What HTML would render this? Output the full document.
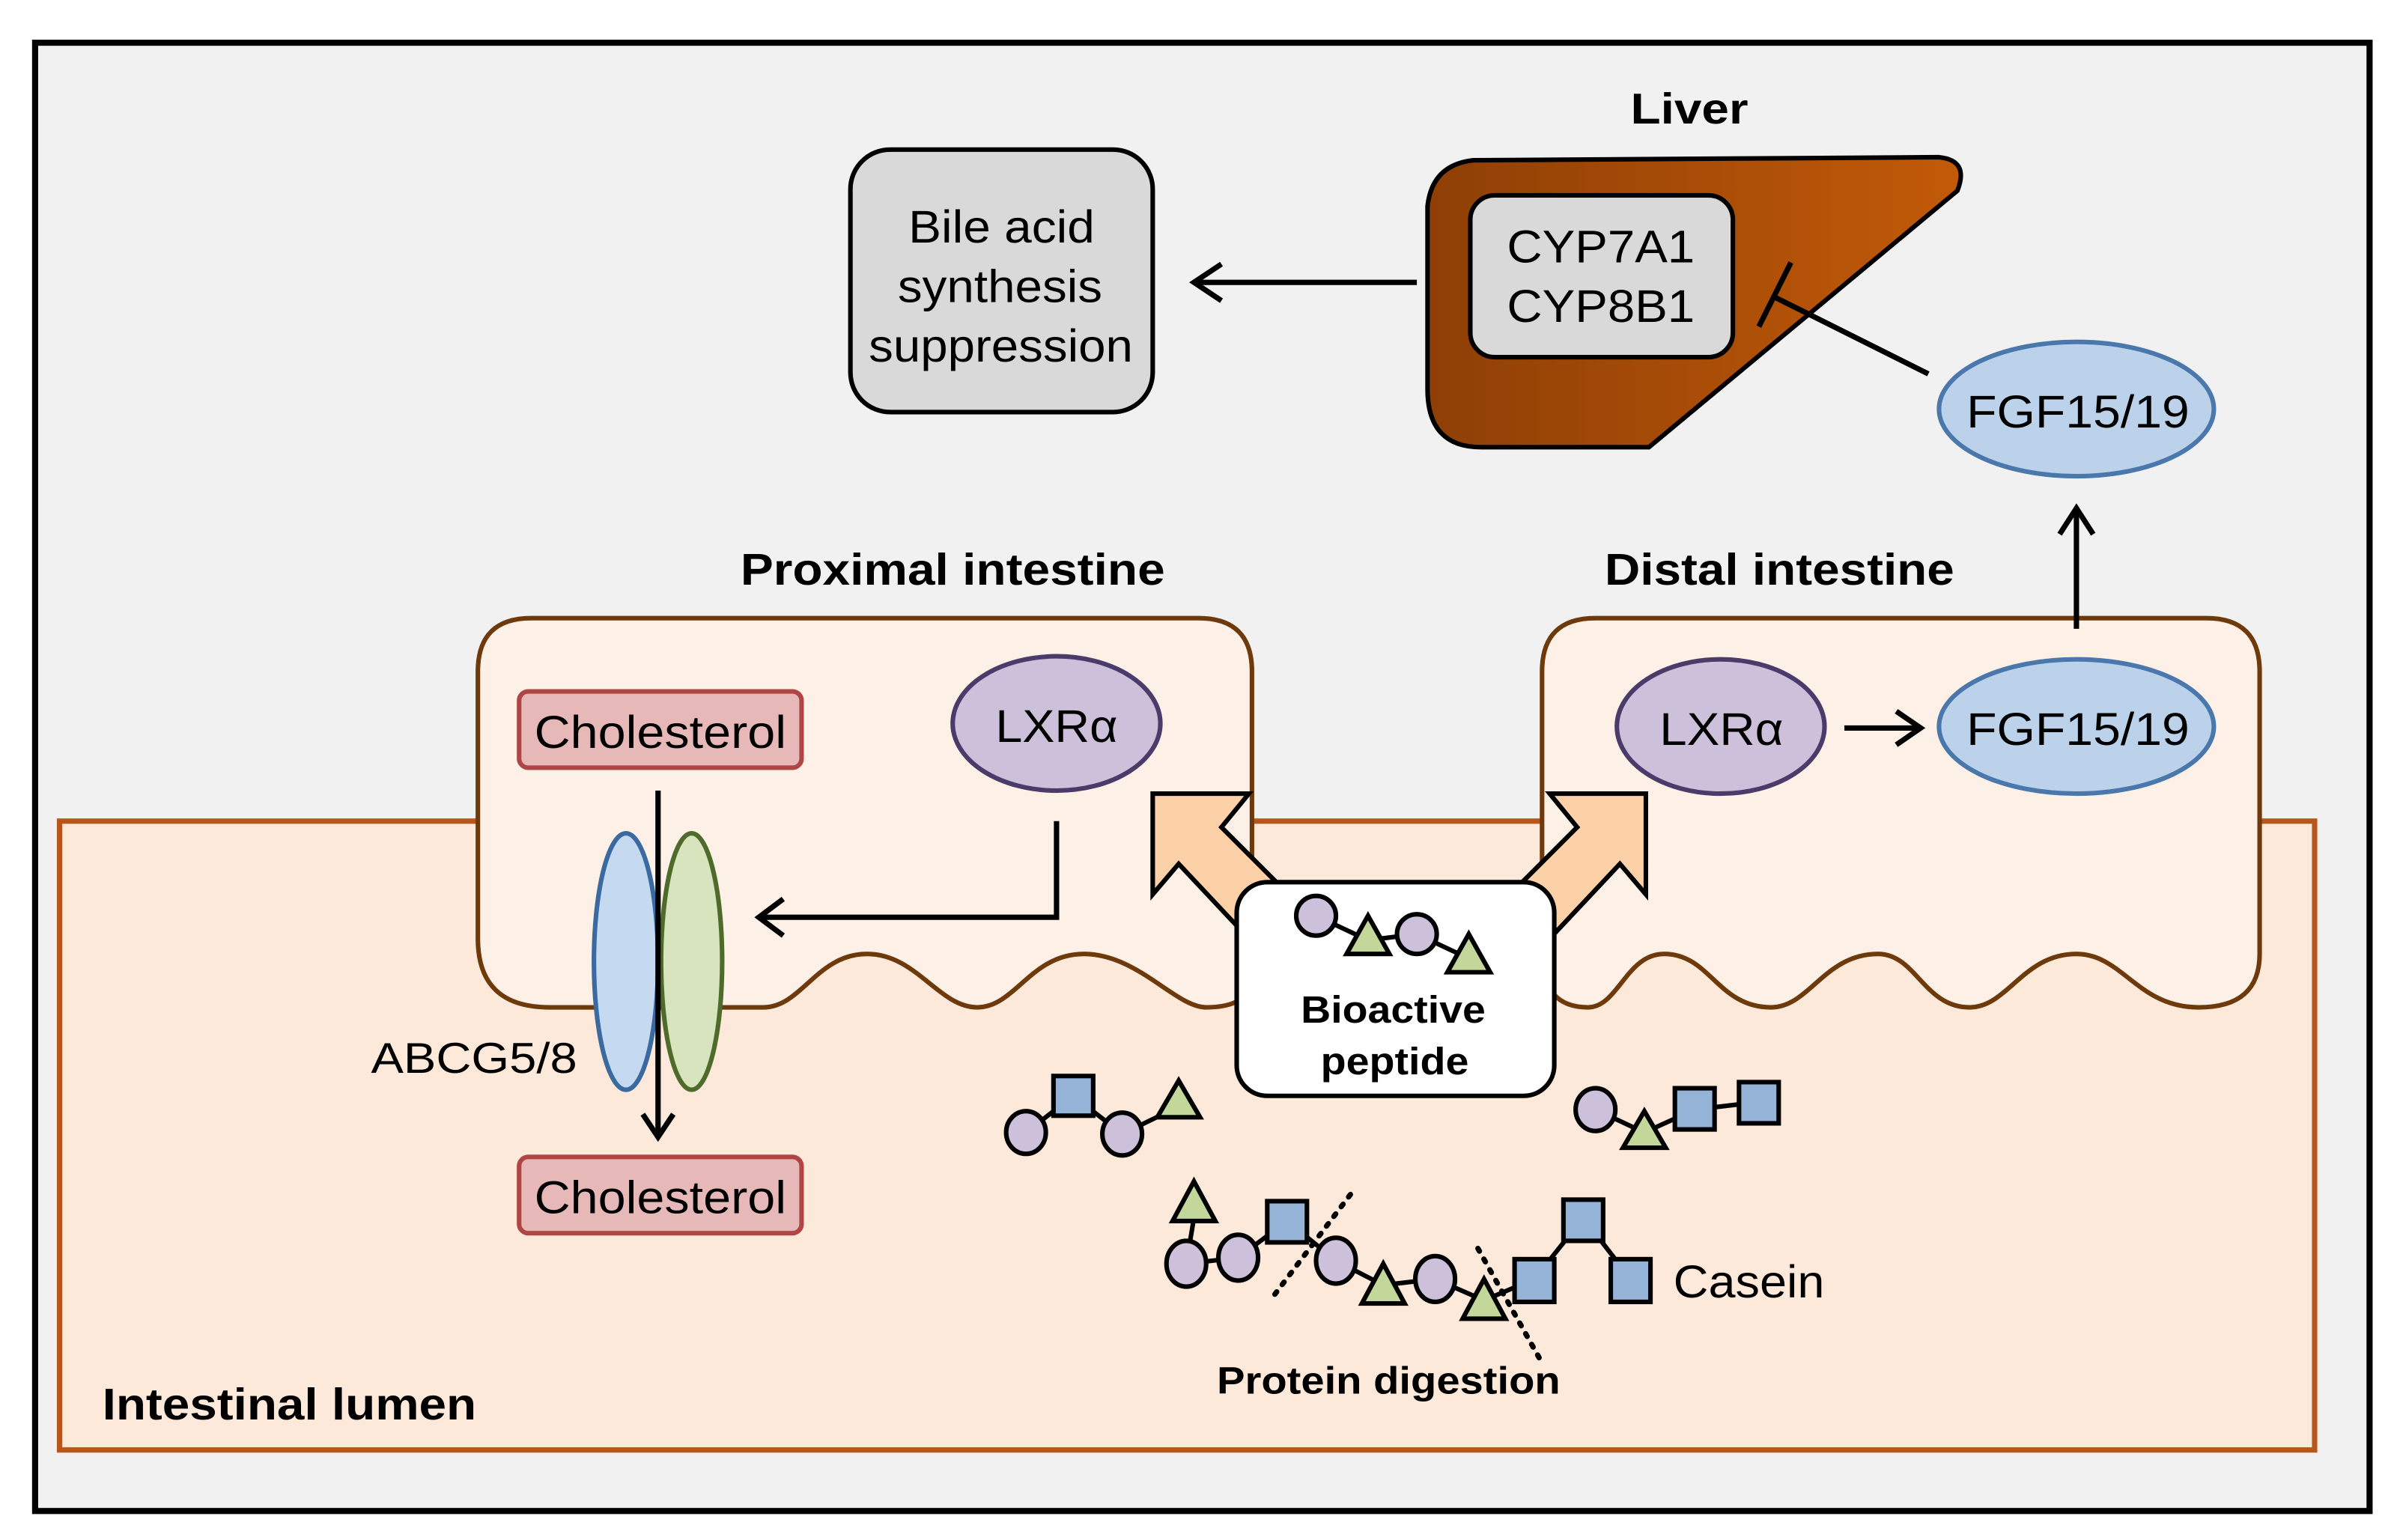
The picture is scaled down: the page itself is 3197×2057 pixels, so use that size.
<!DOCTYPE html>
<html><head><meta charset="utf-8"><style>
html,body{margin:0;padding:0;background:#fff;}
svg{display:block;}
text{font-family:"Liberation Sans",Arial,sans-serif;}
</style></head><body>
<svg width="3197" height="2057" viewBox="0 0 1568 1009" preserveAspectRatio="none" xmlns="http://www.w3.org/2000/svg">
<defs>
<linearGradient id="lg" x1="0" y1="0" x2="1" y2="0">
<stop offset="0" stop-color="#8e3f06"/><stop offset="1" stop-color="#c25a08"/>
</linearGradient>
</defs>
<rect x="0" y="0" width="1568" height="1009" fill="#fff"/>
<rect x="23" y="28" width="1529" height="962" fill="#f1f1f1" stroke="#000" stroke-width="4"/>
<rect x="39" y="538" width="1477" height="412" fill="#fde9da" stroke="#b8561a" stroke-width="3.5"/>

<!-- proximal cell -->
<path d="M313,537 L313,440 Q313,405 348,405 L785,405 Q820,405 820,440 L820,645 Q815,660 790,660 C770,660 745,625 710,625 C675,625 665,660 640,660 C615,660 600,625 568,625 C535,625 525,660 500,660 L360,660 Q313,660 313,615 Z" fill="#fdf0e6" stroke="#6e3a0c" stroke-width="3"/>
<!-- distal cell -->
<path d="M1010,537 L1010,440 Q1010,405 1045,405 L1445,405 Q1480,405 1480,440 L1480,625 Q1480,660 1440,660 C1400,660 1390,625 1360,625 C1325,625 1315,660 1290,660 C1260,660 1255,625 1230,625 C1195,625 1185,660 1160,660 C1125,660 1120,625 1090,625 C1065,625 1060,660 1040,660 Q1010,660 1010,625 Z" fill="#fdf0e6" stroke="#6e3a0c" stroke-width="3"/>

<!-- liver -->
<path d="M965,105 L1270,103 Q1290,105 1282,125 L1080,293 L970,293 Q935,293 935,255 L935,135 Q938,108 965,105 Z" fill="url(#lg)" stroke="#000" stroke-width="3"/>
<rect x="963" y="128" width="172" height="106" rx="16" fill="#d9d9d9" stroke="#000" stroke-width="3"/>
<text x="987" y="172" font-size="30" textLength="123" lengthAdjust="spacingAndGlyphs">CYP7A1</text>
<text x="987" y="211" font-size="30" textLength="123" lengthAdjust="spacingAndGlyphs">CYP8B1</text>
<text x="1068" y="81" font-size="28" font-weight="bold" textLength="77" lengthAdjust="spacingAndGlyphs">Liver</text>

<rect x="557" y="98" width="198" height="172" rx="26" fill="#d9d9d9" stroke="#000" stroke-width="3"/>
<text x="595" y="159" font-size="30" textLength="122" lengthAdjust="spacingAndGlyphs">Bile acid</text>
<text x="588" y="198" font-size="30" textLength="134" lengthAdjust="spacingAndGlyphs">synthesis</text>
<text x="569" y="237" font-size="30" textLength="173" lengthAdjust="spacingAndGlyphs">suppression</text>

<line x1="928" y1="185" x2="785" y2="185" stroke="#000" stroke-width="3.5"/>
<polyline points="800,173 782,185 800,197" fill="none" stroke="#000" stroke-width="3.5"/>
<line x1="1263" y1="245" x2="1163" y2="195" stroke="#000" stroke-width="3.5"/>
<line x1="1173" y1="172" x2="1152" y2="214" stroke="#000" stroke-width="3.5"/>

<ellipse cx="1360" cy="268" rx="90" ry="44" fill="#bcd2ea" stroke="#4a78ad" stroke-width="3"/>
<text x="1288" y="280" font-size="30" textLength="146" lengthAdjust="spacingAndGlyphs">FGF15/19</text>
<line x1="1360" y1="412" x2="1360" y2="334" stroke="#000" stroke-width="3.5"/>
<polyline points="1349,350 1360,333 1371,350" fill="none" stroke="#000" stroke-width="3.5"/>

<text x="485" y="383" font-size="29" font-weight="bold" textLength="278" lengthAdjust="spacingAndGlyphs">Proximal intestine</text>
<text x="1051" y="383" font-size="29" font-weight="bold" textLength="229" lengthAdjust="spacingAndGlyphs">Distal intestine</text>

<ellipse cx="1127" cy="476" rx="68" ry="44" fill="#ccc0da" stroke="#4b3b6b" stroke-width="3"/>
<text x="1087" y="488" font-size="30" textLength="81" lengthAdjust="spacingAndGlyphs">LXRα</text>
<line x1="1208" y1="477" x2="1255" y2="477" stroke="#000" stroke-width="3.5"/>
<polyline points="1242,466 1258,477 1242,488" fill="none" stroke="#000" stroke-width="3.5"/>
<ellipse cx="1360" cy="476" rx="90" ry="44" fill="#bcd2ea" stroke="#4a78ad" stroke-width="3"/>
<text x="1288" y="488" font-size="30" textLength="146" lengthAdjust="spacingAndGlyphs">FGF15/19</text>

<ellipse cx="692" cy="474" rx="68" ry="44" fill="#ccc0da" stroke="#4b3b6b" stroke-width="3"/>
<text x="652" y="486" font-size="30" textLength="80" lengthAdjust="spacingAndGlyphs">LXRα</text>
<rect x="340" y="453" width="185" height="50" rx="6" fill="#e6b8b8" stroke="#b04545" stroke-width="3"/>
<text x="350" y="490" font-size="30" textLength="165" lengthAdjust="spacingAndGlyphs">Cholesterol</text>
<rect x="340" y="758" width="185" height="50" rx="6" fill="#e6b8b8" stroke="#b04545" stroke-width="3"/>
<text x="350" y="795" font-size="30" textLength="165" lengthAdjust="spacingAndGlyphs">Cholesterol</text>
<ellipse cx="410" cy="630" rx="21" ry="84" fill="#c5d9f1" stroke="#3b6aa0" stroke-width="3"/>
<ellipse cx="453" cy="630" rx="20" ry="84" fill="#d7e4bd" stroke="#4f6b2c" stroke-width="3"/>
<line x1="431" y1="518" x2="431" y2="745" stroke="#000" stroke-width="3.5"/>
<polyline points="421,730 431,745 441,730" fill="none" stroke="#000" stroke-width="3.5"/>
<text x="243" y="703" font-size="28" textLength="135" lengthAdjust="spacingAndGlyphs">ABCG5/8</text>
<polyline points="692,538 692,601 500,601" fill="none" stroke="#000" stroke-width="3.5"/>
<polyline points="513,589 497,601 513,613" fill="none" stroke="#000" stroke-width="3.5"/>

<polygon points="755,520 818,520 800,542 848,590 818,615 772,566 755,586" fill="#fcd1a8" stroke="#000" stroke-width="3"/>
<polygon points="1078,520 1015,520 1033,542 985,590 1015,615 1061,566 1078,586" fill="#fcd1a8" stroke="#000" stroke-width="3"/>

<rect x="810" y="578" width="208" height="140" rx="20" fill="#fff" stroke="#000" stroke-width="3"/>
<g stroke="#000" stroke-width="3">
<line x1="862" y1="600" x2="896" y2="616"/><line x1="896" y1="616" x2="928" y2="612"/><line x1="928" y1="612" x2="962" y2="628"/>
<ellipse cx="862" cy="600" rx="13" ry="13" fill="#ccc0da"/>
<polygon points="896,600 882,625 910,625" fill="#c4d79b"/>
<ellipse cx="928" cy="612" rx="13" ry="13" fill="#ccc0da"/>
<polygon points="962,612 948,637 976,637" fill="#c4d79b"/>
</g>
<text x="852" y="670" font-size="25" font-weight="bold" textLength="121" lengthAdjust="spacingAndGlyphs">Bioactive</text>
<text x="865" y="704" font-size="25" font-weight="bold" textLength="97" lengthAdjust="spacingAndGlyphs">peptide</text>

<g stroke="#000" stroke-width="3">
<line x1="672" y1="742" x2="703" y2="718"/><line x1="703" y1="718" x2="735" y2="743"/><line x1="735" y1="743" x2="772" y2="725"/>
<ellipse cx="672" cy="742" rx="13" ry="14" fill="#ccc0da"/>
<rect x="690" y="705" width="26" height="26" fill="#95b3d7"/>
<ellipse cx="735" cy="743" rx="13" ry="14" fill="#ccc0da"/>
<polygon points="772,708 758,732 786,732" fill="#c4d79b"/>
<line x1="1045" y1="727" x2="1077" y2="742"/><line x1="1077" y1="742" x2="1110" y2="727"/><line x1="1110" y1="727" x2="1152" y2="722"/>
<ellipse cx="1045" cy="727" rx="13" ry="14" fill="#ccc0da"/>
<polygon points="1077,728 1063,752 1091,752" fill="#c4d79b"/>
<rect x="1097" y="713" width="26" height="27" fill="#95b3d7"/>
<rect x="1139" y="709" width="26" height="27" fill="#95b3d7"/>
<line x1="777" y1="828" x2="782" y2="798"/>
<line x1="777" y1="828" x2="811" y2="824"/><line x1="811" y1="824" x2="843" y2="800"/><line x1="843" y1="800" x2="875" y2="826"/>
<line x1="875" y1="826" x2="906" y2="842"/><line x1="906" y1="842" x2="940" y2="838"/><line x1="940" y1="838" x2="972" y2="852"/>
<line x1="972" y1="852" x2="1005" y2="838"/><line x1="1005" y1="838" x2="1037" y2="798"/><line x1="1037" y1="798" x2="1068" y2="838"/>
<polygon points="782,774 768,800 796,800" fill="#c4d79b"/>
<ellipse cx="777" cy="828" rx="13" ry="15" fill="#ccc0da"/>
<ellipse cx="811" cy="824" rx="13" ry="15" fill="#ccc0da"/>
<rect x="830" y="787" width="26" height="27" fill="#95b3d7"/>
<ellipse cx="875" cy="826" rx="13" ry="15" fill="#ccc0da"/>
<polygon points="906,828 892,854 920,854" fill="#c4d79b"/>
<ellipse cx="940" cy="838" rx="13" ry="15" fill="#ccc0da"/>
<polygon points="972,838 958,864 986,864" fill="#c4d79b"/>
<rect x="992" y="825" width="26" height="28" fill="#95b3d7"/>
<rect x="1024" y="786" width="26" height="27" fill="#95b3d7"/>
<rect x="1055" y="825" width="26" height="28" fill="#95b3d7"/>
</g>
<g stroke="#000" stroke-width="3.5" stroke-dasharray="2,6" stroke-linecap="round">
<line x1="835" y1="848" x2="888" y2="778"/>
<line x1="968" y1="818" x2="1010" y2="893"/>
</g>
<text x="1096" y="850" font-size="30" textLength="99" lengthAdjust="spacingAndGlyphs">Casein</text>
<text x="797" y="913" font-size="25" font-weight="bold" textLength="225" lengthAdjust="spacingAndGlyphs">Protein digestion</text>
<text x="67" y="930" font-size="29" font-weight="bold" textLength="245" lengthAdjust="spacingAndGlyphs">Intestinal lumen</text>
</svg>
</body></html>
